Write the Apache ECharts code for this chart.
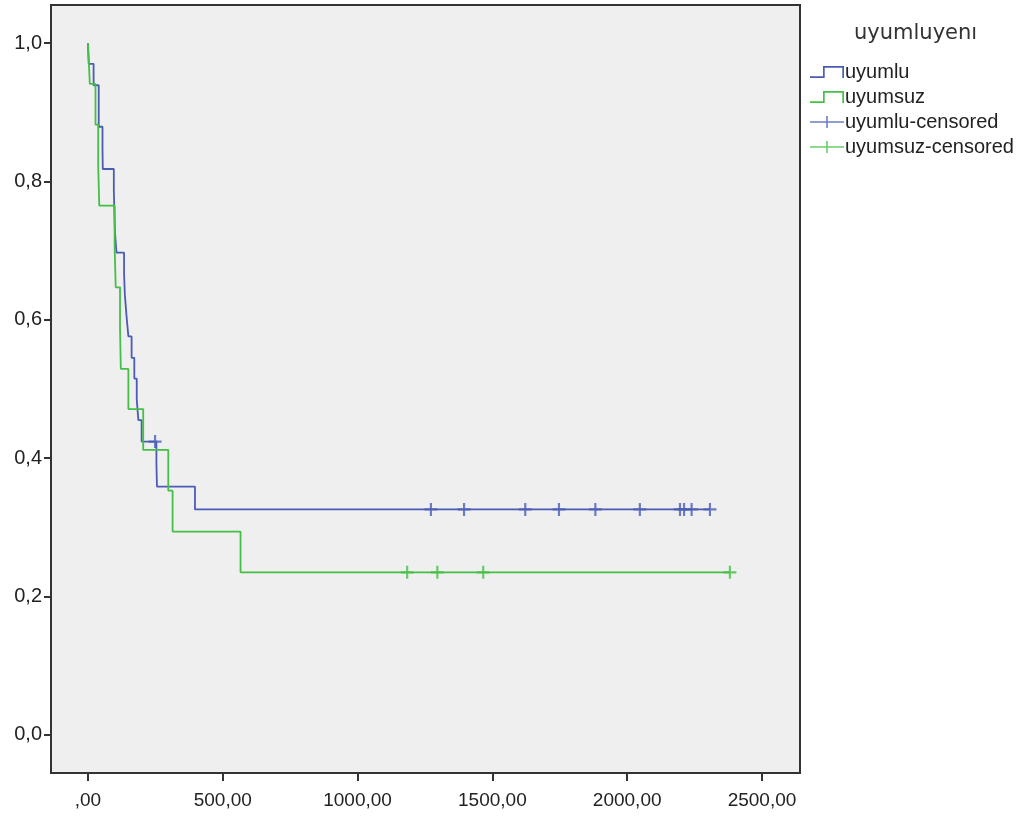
<!DOCTYPE html>
<html>
<head>
<meta charset="utf-8">
<title>uyumluyenı</title>
<script src="https://cdn.jsdelivr.net/npm/echarts@6/dist/echarts.min.js"></script>
<style>
  html, body { margin: 0; padding: 0; background: #fff; }
  #chart { width: 1025px; height: 817px; }
</style>
</head>
<body>
<div id="chart"></div>
<script>
// uyumlu grubu - basamak noktalari (zaman, sağkalım)
var blueTime = [0, 3, 21, 40, 40, 54, 55, 96, 98, 100, 106, 134, 137, 143, 150, 162, 172, 181, 187, 199, 254, 256, 397, 2307];
var blueSurv = [1, 0.970, 0.939, 0.909, 0.879, 0.848, 0.818, 0.788, 0.758, 0.727, 0.697, 0.667, 0.636, 0.606, 0.576, 0.545, 0.515, 0.485, 0.455, 0.424, 0.392, 0.359, 0.326, 0.326];
// uyumsuz grubu
var greenTime = [0, 7, 28, 38, 42, 99, 103, 119, 122, 150, 205, 298, 314, 566, 2381];
var greenSurv = [1, 0.941, 0.882, 0.824, 0.765, 0.706, 0.647, 0.588, 0.529, 0.471, 0.412, 0.353, 0.294, 0.235, 0.235];
// censored
var blueCensTime = [249, 1272, 1395, 1622, 1747, 1882, 2047, 2196, 2211, 2239, 2307];
var blueCensSurv = [0.424, 0.326, 0.326, 0.326, 0.326, 0.326, 0.326, 0.326, 0.326, 0.326, 0.326];
var greenCensTime = [1184, 1296, 1466, 2381];
var greenCensSurv = [0.235, 0.235, 0.235, 0.235];
// eksen
var xTicks = [0, 500, 1000, 1500, 2000, 2500];
var yTicks = [0, 0.2, 0.4, 0.6, 0.8, 1.0];

var BLUE = '#4a5cb5';
var GREEN = '#45bf45';
var FONT = 'Liberation Sans, Arial, sans-serif';

function pairs(xs, ys) {
  var out = [];
  for (var i = 0; i < xs.length; i++) out.push([xs[i], ys[i]]);
  return out;
}

var plus = 'path://M5,0H7V5H12V7H7V12H5V7H0V5H5Z';
var stepIcon = 'path://M0,10.3H13V0H34V12H32.3V1.7H14.7V12H0Z';
var censIcon = 'path://M0,5.2H16.2V0H17.8V5.2H34V6.8H17.8V12H16.2V6.8H0Z';

var chart = echarts.init(document.getElementById('chart'));
var option = {
  animation: false,
  backgroundColor: '#fff',
  title: {
    text: 'uyumluyenı',
    left: 849,
    top: 18,
    textStyle: { fontFamily: 'DejaVu Sans', fontSize: 21, fontWeight: 'normal', color: '#333' }
  },
  legend: {
    orient: 'vertical',
    left: 805,
    top: 57,
    itemWidth: 34,
    itemHeight: 12,
    itemGap: 5,
    textStyle: { fontFamily: FONT, fontSize: 20, color: '#222', padding: [0, 0, 0, -4] },
    data: [
      { name: 'uyumlu', icon: stepIcon },
      { name: 'uyumsuz', icon: stepIcon },
      { name: 'uyumlu-censored', icon: censIcon },
      { name: 'uyumsuz-censored', icon: censIcon }
    ]
  },
  grid: {
    left: 51, top: 5, width: 749, height: 768,
    show: true, backgroundColor: '#efefef', borderColor: '#333', borderWidth: 2
  },
  xAxis: {
    type: 'value', min: -137, max: 2641,
    axisLine: { show: false, onZero: false },
    splitLine: { show: false },
    axisTick: { show: true, length: 8, lineStyle: { color: '#333', width: 2 }, customValues: xTicks },
    axisLabel: {
      customValues: xTicks, margin: 18, color: '#222', fontFamily: FONT, fontSize: 19,
      formatter: function (v) { return v === 0 ? ',00' : v.toFixed(2).replace('.', ','); }
    }
  },
  yAxis: {
    type: 'value', min: -0.055, max: 1.055,
    axisLine: { show: false, onZero: false },
    splitLine: { show: false },
    axisTick: { show: true, length: 7, lineStyle: { color: '#333', width: 2 }, customValues: yTicks },
    axisLabel: {
      customValues: yTicks, margin: 9, color: '#222', fontFamily: FONT, fontSize: 20,
      formatter: function (v) { return v.toFixed(1).replace('.', ','); }
    }
  },
  series: [
    {
      name: 'uyumlu', type: 'line', step: 'end', symbol: 'none',
      color: BLUE, lineStyle: { color: BLUE, width: 1.8 },
      data: pairs(blueTime, blueSurv)
    },
    {
      name: 'uyumsuz', type: 'line', step: 'end', symbol: 'none',
      color: GREEN, lineStyle: { color: GREEN, width: 1.8 },
      data: pairs(greenTime, greenSurv)
    },
    {
      name: 'uyumlu-censored', type: 'scatter', symbol: plus, symbolSize: 13,
      color: BLUE, itemStyle: { color: BLUE },
      data: pairs(blueCensTime, blueCensSurv)
    },
    {
      name: 'uyumsuz-censored', type: 'scatter', symbol: plus, symbolSize: 13,
      color: GREEN, itemStyle: { color: GREEN },
      data: pairs(greenCensTime, greenCensSurv)
    }
  ]
};
chart.setOption(option);
</script>
</body>
</html>
